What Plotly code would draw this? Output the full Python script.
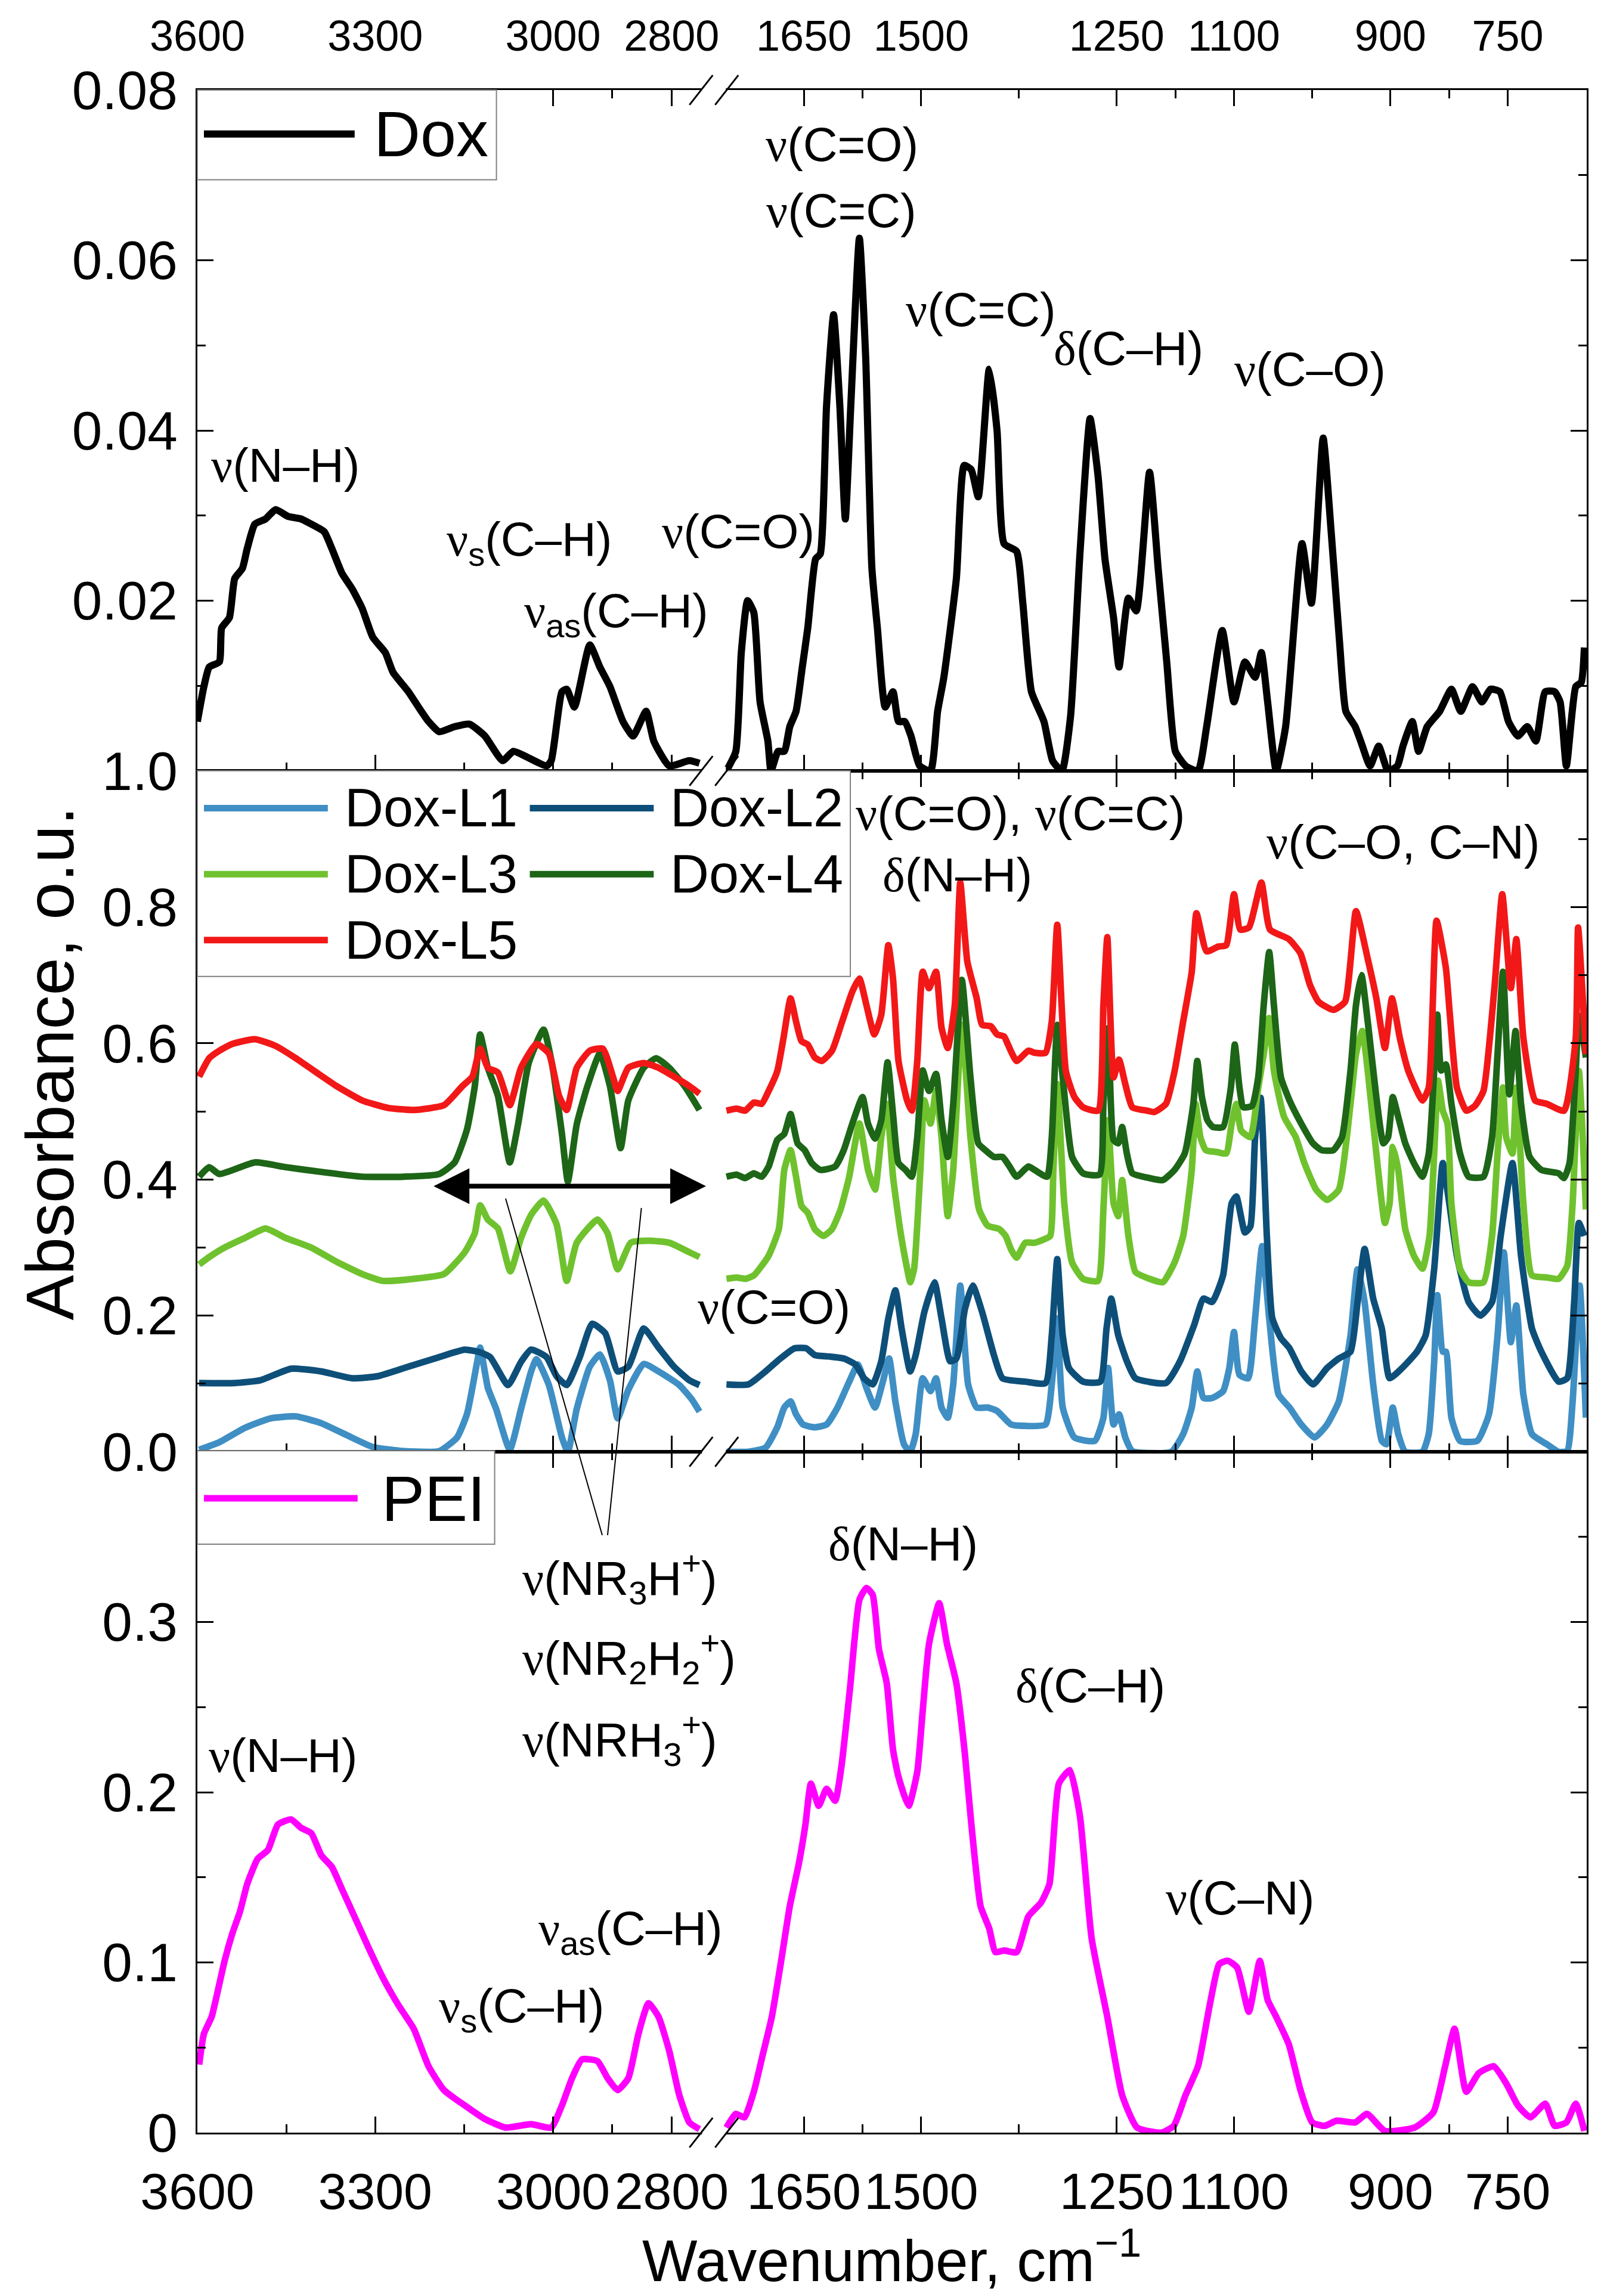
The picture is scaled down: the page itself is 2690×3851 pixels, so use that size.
import plotly.graph_objects as go
from plotly.subplots import make_subplots

# ---------------- data: wavenumber (cm-1) and absorbance ----------------
# "hi" = 3600-2750 cm-1 segment, "lo" = 1750-650 cm-1 segment

dox_wn_hi = [3600, 3589, 3580, 3563, 3559, 3546, 3537, 3524, 3516, 3503, 3485, 3468, 3447, 3425,
             3408, 3386, 3373, 3356, 3339, 3322, 3304, 3283, 3270, 3244, 3227, 3210, 3192, 3166,
             3141, 3115, 3085, 3067, 3046, 3011, 3003, 2985, 2977, 2964, 2938, 2921, 2904, 2882,
             2865, 2843, 2830, 2804, 2770, 2753]
dox_hi = [0.0058, 0.0099, 0.0122, 0.0128, 0.0168, 0.0180, 0.0226, 0.0238, 0.0261, 0.0290, 0.0296,
          0.0307, 0.0299, 0.0296, 0.0290, 0.0281, 0.0261, 0.0232, 0.0214, 0.0191, 0.0157, 0.0139,
          0.0116, 0.0093, 0.0075, 0.0058, 0.0046, 0.0052, 0.0055, 0.0041, 0.0012, 0.0023, 0.0017,
          0.0006, 0.0012, 0.0093, 0.0096, 0.0075, 0.0148, 0.0122, 0.0099, 0.0058, 0.0041, 0.0070,
          0.0035, 0.0006, 0.0012, 0.0009]

dox_wn_lo = [1749, 1737, 1730, 1722, 1714, 1706, 1696, 1692, 1683, 1675, 1668, 1660, 1652, 1645,
             1635, 1629, 1621, 1612, 1604, 1597, 1590, 1579, 1571, 1563, 1556, 1546, 1536, 1529,
             1521, 1513, 1502, 1488, 1479, 1471, 1455, 1445, 1436, 1427, 1413, 1403, 1394, 1378,
             1370, 1359, 1343, 1332, 1320, 1309, 1297, 1284, 1274, 1265, 1254, 1247, 1235, 1225,
             1208, 1197, 1186, 1175, 1162, 1146, 1135, 1115, 1100, 1086, 1073, 1065, 1057, 1046,
             1034, 1013, 1001, 986, 976, 965, 957, 945, 938, 926, 915, 903, 891, 884, 872, 864,
             853, 837, 822, 810, 795, 783, 772, 760, 749, 737, 725, 714, 702, 690, 683, 675, 663,
             656, 652]
dox_lo = [0.0, 0.0023, 0.0139, 0.0200, 0.0186, 0.0081, 0.0035, 0.0, 0.0023, 0.0023, 0.0052, 0.0070,
          0.0122, 0.0168, 0.0249, 0.0255, 0.0429, 0.0536, 0.0429, 0.0296, 0.0429, 0.0626, 0.0487,
          0.0238, 0.0168, 0.0075, 0.0093, 0.0058, 0.0058, 0.0041, 0.0006, 0.0, 0.0070, 0.0110,
          0.0226, 0.0359, 0.0354, 0.0322, 0.0472, 0.0400, 0.0267, 0.0258, 0.0197, 0.0093, 0.0058,
          0.0012, 0.0, 0.0064, 0.0255, 0.0414, 0.0348, 0.0249, 0.0180, 0.0122, 0.0203, 0.0188,
          0.0351, 0.0238, 0.0128, 0.0023, 0.0006, 0.0, 0.0052, 0.0165, 0.0081, 0.0128, 0.0110,
          0.0139, 0.0081, 0.0, 0.0052, 0.0267, 0.0197, 0.0391, 0.0284, 0.0151, 0.0070, 0.0052,
          0.0035, 0.0006, 0.0029, 0.0, 0.0006, 0.0029, 0.0058, 0.0023, 0.0052, 0.0070, 0.0096,
          0.0070, 0.0099, 0.0081, 0.0096, 0.0093, 0.0058, 0.0041, 0.0052, 0.0035, 0.0093, 0.0093,
          0.0081, 0.0006, 0.0099, 0.0104, 0.0145]

l1_wn_hi = [3597, 3563, 3520, 3477, 3434, 3391, 3347, 3304, 3253, 3192, 3162, 3145, 3128, 3123, 3110,
            3096, 3073, 3054, 3037, 3028, 3007, 2985, 2975, 2960, 2938, 2921, 2904, 2891, 2873, 2847,
            2822, 2787, 2766, 2753]
l1_hi = [0.003, 0.014, 0.035, 0.049, 0.052, 0.042, 0.024, 0.007, 0.001, 0.001, 0.021, 0.056, 0.132,
         0.153, 0.094, 0.063, 0.003, 0.063, 0.118, 0.136, 0.098, 0.021, 0.0, 0.063, 0.125, 0.143,
         0.105, 0.049, 0.091, 0.129, 0.118, 0.098, 0.077, 0.059]
l1_wn_lo = [1749, 1721, 1699, 1684, 1675, 1667, 1660, 1651, 1636, 1621, 1607, 1592, 1581, 1570, 1559,
            1549, 1541, 1533, 1522, 1514, 1507, 1498, 1488, 1481, 1474, 1466, 1459, 1450, 1440, 1429,
            1415, 1403, 1385, 1367, 1341, 1333, 1326, 1319, 1304, 1278, 1267, 1261, 1254, 1247, 1239,
            1230, 1180, 1165, 1154, 1147, 1139, 1128, 1114, 1106, 1100, 1093, 1082, 1073, 1064, 1055,
            1043, 1029, 1014, 997, 981, 966, 951, 942, 933, 922, 911, 905, 897, 890, 881, 859, 851,
            844, 840, 833, 829, 822, 811, 789, 774, 763, 755, 746, 739, 730, 719, 700, 685, 674, 667,
            658, 650]
l1_lo = [0.0, 0.0, 0.006, 0.036, 0.065, 0.074, 0.055, 0.040, 0.036, 0.040, 0.065, 0.103, 0.128, 0.094,
         0.065, 0.103, 0.137, 0.074, 0.011, 0.0, 0.026, 0.108, 0.089, 0.108, 0.065, 0.050, 0.099,
         0.244, 0.099, 0.065, 0.065, 0.060, 0.040, 0.038, 0.040, 0.099, 0.196, 0.065, 0.021, 0.016,
         0.050, 0.123, 0.040, 0.055, 0.021, 0.001, 0.0, 0.026, 0.065, 0.118, 0.079, 0.079, 0.089,
         0.123, 0.176, 0.113, 0.108, 0.196, 0.302, 0.196, 0.084, 0.065, 0.040, 0.021, 0.040, 0.074,
         0.171, 0.268, 0.220, 0.099, 0.016, 0.011, 0.065, 0.026, 0.0, 0.0, 0.026, 0.133, 0.230,
         0.147, 0.147, 0.050, 0.016, 0.016, 0.055, 0.171, 0.293, 0.161, 0.215, 0.084, 0.026, 0.011,
         0.0, 0.001, 0.074, 0.244, 0.050]

l2_wn_hi = [3597, 3537, 3494, 3442, 3391, 3339, 3296, 3244, 3192, 3149, 3123, 3106, 3076, 3054, 3037,
            3011, 2994, 2977, 2955, 2934, 2912, 2891, 2873, 2847, 2822, 2796, 2770, 2753]
l2_hi = [0.101, 0.101, 0.105, 0.122, 0.118, 0.108, 0.111, 0.125, 0.139, 0.150, 0.146, 0.139, 0.098,
         0.132, 0.150, 0.139, 0.111, 0.098, 0.139, 0.188, 0.174, 0.118, 0.125, 0.181, 0.153, 0.125,
         0.105, 0.098]
l2_wn_lo = [1749, 1721, 1699, 1680, 1662, 1647, 1636, 1618, 1599, 1584, 1573, 1562, 1551, 1542, 1533,
            1525, 1514, 1507, 1496, 1483, 1474, 1463, 1455, 1444, 1434, 1422, 1407, 1396, 1367, 1341,
            1333, 1326, 1319, 1311, 1293, 1271, 1263, 1257, 1248, 1237, 1226, 1187, 1169, 1151, 1139,
            1128, 1114, 1103, 1097, 1086, 1079, 1073, 1066, 1058, 1051, 1040, 1029, 1014, 999, 981,
            966, 951, 942, 933, 922, 911, 901, 885, 866, 855, 844, 833, 826, 815, 800, 785, 770, 759,
            744, 733, 719, 707, 685, 674, 665, 659, 652]
l2_lo = [0.099, 0.099, 0.118, 0.137, 0.152, 0.152, 0.142, 0.140, 0.137, 0.128, 0.108, 0.099, 0.133,
         0.196, 0.237, 0.181, 0.118, 0.142, 0.205, 0.249, 0.196, 0.133, 0.137, 0.210, 0.244, 0.205,
         0.142, 0.108, 0.103, 0.101, 0.171, 0.283, 0.171, 0.123, 0.103, 0.103, 0.181, 0.225, 0.171,
         0.133, 0.108, 0.101, 0.133, 0.186, 0.225, 0.220, 0.259, 0.365, 0.375, 0.322, 0.331, 0.462,
         0.520, 0.317, 0.196, 0.167, 0.152, 0.118, 0.099, 0.123, 0.137, 0.147, 0.220, 0.298, 0.225,
         0.181, 0.108, 0.123, 0.147, 0.171, 0.269, 0.424, 0.375, 0.288, 0.220, 0.200, 0.220, 0.317,
         0.424, 0.288, 0.181, 0.147, 0.103, 0.108, 0.220, 0.336, 0.317]

l3_wn_hi = [3597, 3580, 3554, 3520, 3485, 3451, 3408, 3365, 3322, 3287, 3235, 3184, 3149, 3132, 3123,
            3110, 3093, 3072, 3054, 3037, 3016, 2994, 2977, 2960, 2925, 2908, 2891, 2869, 2839, 2804,
            2770, 2753]
l3_hi = [0.275, 0.286, 0.300, 0.314, 0.328, 0.314, 0.300, 0.279, 0.261, 0.251, 0.254, 0.261, 0.293,
         0.321, 0.362, 0.341, 0.328, 0.265, 0.314, 0.348, 0.369, 0.334, 0.251, 0.307, 0.341, 0.321,
         0.268, 0.307, 0.310, 0.307, 0.293, 0.286]
l3_wn_lo = [1749, 1736, 1725, 1714, 1704, 1695, 1682, 1675, 1667, 1660, 1653, 1645, 1636, 1625, 1614,
            1603, 1592, 1579, 1568, 1559, 1551, 1544, 1536, 1527, 1518, 1514, 1509, 1501, 1496, 1488,
            1481, 1474, 1466, 1459, 1448, 1437, 1426, 1415, 1400, 1392, 1385, 1378, 1367, 1355, 1343,
            1335, 1331, 1326, 1317, 1307, 1293, 1274, 1267, 1261, 1254, 1248, 1243, 1235, 1226, 1208,
            1191, 1176, 1165, 1154, 1149, 1143, 1136, 1121, 1110, 1103, 1097, 1091, 1079, 1069, 1062,
            1055, 1049, 1036, 1021, 1010, 995, 981, 966, 951, 944, 936, 929, 918, 907, 901, 897, 890,
            881, 870, 859, 850, 844, 839, 833, 827, 822, 811, 800, 781, 770, 763, 756, 752, 744, 739,
            730, 719, 700, 685, 674, 667, 659, 650]
l3_lo = [0.254, 0.256, 0.254, 0.259, 0.273, 0.288, 0.327, 0.414, 0.443, 0.404, 0.361, 0.351, 0.327,
         0.317, 0.327, 0.356, 0.404, 0.482, 0.414, 0.385, 0.462, 0.511, 0.404, 0.327, 0.269, 0.249,
         0.269, 0.414, 0.516, 0.482, 0.530, 0.462, 0.346, 0.414, 0.627, 0.462, 0.356, 0.332, 0.327,
         0.317, 0.297, 0.285, 0.307, 0.307, 0.312, 0.317, 0.414, 0.540, 0.365, 0.278, 0.254, 0.251,
         0.356, 0.487, 0.365, 0.346, 0.399, 0.317, 0.264, 0.254, 0.249, 0.278, 0.317, 0.414, 0.511,
         0.462, 0.443, 0.440, 0.438, 0.482, 0.511, 0.472, 0.462, 0.535, 0.584, 0.637, 0.560, 0.492,
         0.462, 0.424, 0.385, 0.370, 0.385, 0.511, 0.584, 0.618, 0.560, 0.438, 0.336, 0.365, 0.448,
         0.414, 0.327, 0.288, 0.269, 0.317, 0.438, 0.545, 0.501, 0.482, 0.365, 0.269, 0.249, 0.249,
         0.317, 0.438, 0.535, 0.462, 0.438, 0.535, 0.365, 0.259, 0.256, 0.254, 0.273, 0.365, 0.559,
         0.356]

l4_wn_hi = [3597, 3580, 3563, 3503, 3451, 3391, 3322, 3253, 3192, 3166, 3145, 3132, 3123, 3110, 3093,
            3073, 3059, 3041, 3016, 3002, 2985, 2975, 2960, 2942, 2921, 2904, 2886, 2873, 2847, 2826,
            2804, 2778, 2753]
l4_hi = [0.404, 0.418, 0.408, 0.425, 0.418, 0.411, 0.404, 0.404, 0.408, 0.425, 0.474, 0.537, 0.613,
         0.564, 0.523, 0.425, 0.481, 0.571, 0.620, 0.571, 0.467, 0.397, 0.481, 0.537, 0.585, 0.537,
         0.446, 0.516, 0.564, 0.578, 0.564, 0.537, 0.502]
l4_wn_lo = [1749, 1736, 1725, 1714, 1704, 1695, 1684, 1675, 1667, 1658, 1649, 1640, 1629, 1610, 1599,
            1588, 1575, 1568, 1559, 1551, 1543, 1536, 1529, 1520, 1512, 1505, 1498, 1490, 1481, 1474,
            1466, 1459, 1448, 1437, 1427, 1418, 1407, 1396, 1387, 1378, 1363, 1355, 1339, 1333, 1326,
            1319, 1307, 1293, 1272, 1267, 1261, 1254, 1248, 1243, 1237, 1230, 1208, 1191, 1176, 1163,
            1152, 1147, 1141, 1134, 1127, 1114, 1104, 1099, 1093, 1088, 1077, 1069, 1062, 1055, 1049,
            1040, 1029, 1014, 999, 988, 973, 962, 951, 944, 937, 929, 918, 909, 903, 897, 890, 881,
            870, 859, 851, 844, 840, 835, 829, 822, 811, 800, 781, 770, 763, 756, 748, 740, 733, 722,
            707, 685, 678, 671, 663, 659, 650]
l4_lo = [0.404, 0.407, 0.402, 0.409, 0.404, 0.419, 0.458, 0.467, 0.496, 0.453, 0.443, 0.424, 0.414,
         0.419, 0.443, 0.482, 0.521, 0.482, 0.460, 0.487, 0.572, 0.496, 0.424, 0.414, 0.404, 0.462,
         0.560, 0.530, 0.555, 0.487, 0.433, 0.511, 0.693, 0.550, 0.453, 0.443, 0.433, 0.433, 0.419,
         0.404, 0.419, 0.414, 0.404, 0.462, 0.627, 0.550, 0.433, 0.409, 0.407, 0.511, 0.622, 0.458,
         0.453, 0.477, 0.438, 0.409, 0.402, 0.399, 0.414, 0.438, 0.511, 0.574, 0.521, 0.487, 0.477,
         0.477, 0.535, 0.598, 0.535, 0.506, 0.508, 0.550, 0.656, 0.734, 0.656, 0.550, 0.516, 0.482,
         0.453, 0.443, 0.443, 0.462, 0.560, 0.656, 0.700, 0.632, 0.521, 0.453, 0.462, 0.521, 0.492,
         0.453, 0.424, 0.404, 0.438, 0.560, 0.642, 0.560, 0.569, 0.511, 0.438, 0.404, 0.404, 0.462,
         0.584, 0.705, 0.525, 0.618, 0.511, 0.433, 0.414, 0.409, 0.402, 0.424, 0.560, 0.640, 0.579]

l5_wn_hi = [3597, 3580, 3563, 3541, 3503, 3468, 3434, 3399, 3365, 3322, 3278, 3235, 3184, 3153, 3136,
            3123, 3110, 3093, 3073, 3054, 3028, 3007, 2990, 2977, 2960, 2938, 2916, 2899, 2891, 2873,
            2847, 2822, 2796, 2770, 2753]
l5_hi = [0.551, 0.578, 0.589, 0.599, 0.606, 0.596, 0.578, 0.557, 0.537, 0.516, 0.505, 0.502, 0.509,
         0.537, 0.551, 0.592, 0.564, 0.557, 0.509, 0.564, 0.599, 0.585, 0.523, 0.502, 0.564, 0.589,
         0.592, 0.551, 0.530, 0.564, 0.571, 0.564, 0.551, 0.537, 0.526]
l5_wn_lo = [1749, 1736, 1725, 1714, 1704, 1695, 1684, 1676, 1667, 1660, 1653, 1645, 1636, 1627, 1614,
            1601, 1588, 1579, 1570, 1560, 1551, 1542, 1536, 1529, 1518, 1512, 1505, 1498, 1490, 1481,
            1474, 1466, 1457, 1450, 1441, 1429, 1422, 1411, 1403, 1394, 1389, 1378, 1363, 1355, 1341,
            1333, 1326, 1315, 1304, 1293, 1274, 1267, 1262, 1254, 1247, 1239, 1230, 1211, 1202, 1187,
            1176, 1165, 1154, 1148, 1135, 1120, 1110, 1100, 1092, 1081, 1065, 1054, 1030, 1015, 1003,
            992, 973, 958, 944, 929, 918, 907, 898, 888, 877, 859, 851, 841, 829, 824, 815, 803, 792,
            781, 767, 757, 746, 739, 730, 715, 700, 678, 663, 660, 650]
l5_lo = [0.501, 0.504, 0.501, 0.513, 0.511, 0.530, 0.559, 0.608, 0.666, 0.632, 0.603, 0.598, 0.579,
         0.574, 0.589, 0.632, 0.676, 0.695, 0.656, 0.613, 0.642, 0.744, 0.695, 0.574, 0.516, 0.501,
         0.574, 0.705, 0.681, 0.705, 0.623, 0.593, 0.656, 0.836, 0.720, 0.666, 0.627, 0.625, 0.613,
         0.610, 0.598, 0.574, 0.589, 0.586, 0.586, 0.632, 0.774, 0.559, 0.521, 0.506, 0.501, 0.656,
         0.756, 0.550, 0.576, 0.540, 0.506, 0.501, 0.499, 0.511, 0.559, 0.632, 0.705, 0.791, 0.735,
         0.742, 0.744, 0.819, 0.767, 0.770, 0.836, 0.767, 0.753, 0.732, 0.686, 0.661, 0.649, 0.661,
         0.794, 0.724, 0.666, 0.593, 0.666, 0.608, 0.559, 0.516, 0.535, 0.780, 0.710, 0.642, 0.535,
         0.501, 0.508, 0.530, 0.681, 0.819, 0.681, 0.753, 0.608, 0.516, 0.511, 0.501, 0.608, 0.770,
         0.584]

pei_wn_hi = [3597, 3589, 3576, 3567, 3554, 3541, 3528, 3516, 3498, 3481, 3464, 3442, 3425, 3408, 3391,
             3373, 3356, 3335, 3313, 3287, 3261, 3235, 3210, 3184, 3149, 3115, 3080, 3037, 3003, 2985,
             2968, 2951, 2925, 2908, 2891, 2873, 2856, 2839, 2822, 2804, 2787, 2770, 2753]
pei_hi = [0.040, 0.058, 0.068, 0.081, 0.101, 0.117, 0.130, 0.146, 0.161, 0.166, 0.181, 0.184, 0.179,
          0.176, 0.163, 0.156, 0.143, 0.127, 0.110, 0.091, 0.075, 0.061, 0.039, 0.025, 0.016, 0.008,
          0.003, 0.005, 0.003, 0.016, 0.032, 0.043, 0.042, 0.032, 0.025, 0.032, 0.058, 0.076, 0.068,
          0.048, 0.022, 0.006, 0.002]
pei_wn_lo = [1749, 1737, 1726, 1714, 1703, 1691, 1679, 1668, 1656, 1648, 1641, 1631, 1621, 1610, 1602,
             1591, 1579, 1570, 1562, 1554, 1544, 1536, 1529, 1516, 1505, 1498, 1490, 1477, 1467, 1455,
             1444, 1436, 1424, 1413, 1405, 1394, 1378, 1363, 1347, 1336, 1324, 1310, 1297, 1282, 1262,
             1243, 1224, 1193, 1177, 1162, 1146, 1131, 1119, 1108, 1096, 1081, 1067, 1057, 1046, 1030,
             1015, 1000, 984, 969, 945, 930, 907, 869, 845, 830, 818, 803, 787, 768, 752, 737, 721,
             702, 690, 675, 663, 652]
pei_lo = [0.003, 0.011, 0.009, 0.024, 0.045, 0.068, 0.101, 0.133, 0.159, 0.181, 0.205, 0.192, 0.202,
          0.195, 0.215, 0.261, 0.313, 0.320, 0.316, 0.284, 0.264, 0.225, 0.209, 0.192, 0.212, 0.248,
          0.287, 0.311, 0.287, 0.264, 0.222, 0.182, 0.133, 0.120, 0.106, 0.107, 0.106, 0.127, 0.135,
          0.146, 0.205, 0.213, 0.186, 0.114, 0.068, 0.022, 0.003, 0.0, 0.004, 0.022, 0.039, 0.075,
          0.099, 0.101, 0.097, 0.071, 0.101, 0.078, 0.068, 0.052, 0.025, 0.006, 0.004, 0.007, 0.006,
          0.011, 0.001, 0.003, 0.012, 0.039, 0.061, 0.024, 0.035, 0.039, 0.029, 0.016, 0.009, 0.017,
          0.004, 0.006, 0.017, 0.001]

hi_ticks = [3600, 3300, 3000, 2800]
hi_minor = [3450, 3150, 2900]
lo_ticks = [1650, 1500, 1250, 1100, 900, 750]
lo_minor = [1575, 1375, 1175, 1000, 825]

# ---------------- layout constants ----------------
W, H = 2690, 3851
ML, MR, MT, MB = 323, 35, 133, 282
PW, PH = W - ML - MR, H - MT - MB
SPLIT = 0.3718
X_HI = [3600, 2728.6]
X_LO = [1765, 649]
Y_MAX = {1: 0.08, 2: 1.0, 3: 0.4}
FONT = "Liberation Sans, Arial, sans-serif"
NU = '<span style="font-family:Liberation Serif">ν</span>'
DE = '<span style="font-family:Liberation Serif">δ</span>'

colors = {
    "Dox": "#000000",
    "Dox-L1": "#3f8fc4",
    "Dox-L2": "#0d4f79",
    "Dox-L3": "#6fc22e",
    "Dox-L4": "#1d6517",
    "Dox-L5": "#f21818",
    "PEI": "#ff00ff",
}


def pxx(x):
    return (x - ML) / PW


def pxy(y):
    return 1 - (y - MT) / PH


def wn_paper(wn):
    if wn > 2000:
        return SPLIT * (X_HI[0] - wn) / (X_HI[0] - X_HI[1])
    return SPLIT + (1 - SPLIT) * (X_LO[0] - wn) / (X_LO[0] - X_LO[1])


def val_paper(row, v):
    return (3 - row) / 3 + v / Y_MAX[row] / 3


fig = make_subplots(rows=3, cols=2, column_widths=[SPLIT, 1 - SPLIT],
                    horizontal_spacing=0, vertical_spacing=0)


def add_series(row, name, wn_hi, v_hi, wn_lo, v_lo, width=11):
    for col, (wx, vy) in ((1, (wn_hi, v_hi)), (2, (wn_lo, v_lo))):
        fig.add_trace(go.Scatter(
            x=wx, y=vy, mode="lines", name=name, showlegend=False,
            line=dict(color=colors[name], width=width, shape="spline", smoothing=0.5),
        ), row=row, col=col)


add_series(1, "Dox", dox_wn_hi, dox_hi, dox_wn_lo, dox_lo, width=12)
add_series(2, "Dox-L1", l1_wn_hi, l1_hi, l1_wn_lo, l1_lo)
add_series(2, "Dox-L2", l2_wn_hi, l2_hi, l2_wn_lo, l2_lo)
add_series(2, "Dox-L3", l3_wn_hi, l3_hi, l3_wn_lo, l3_lo)
add_series(2, "Dox-L4", l4_wn_hi, l4_hi, l4_wn_lo, l4_lo)
add_series(2, "Dox-L5", l5_wn_hi, l5_hi, l5_wn_lo, l5_lo)
add_series(3, "PEI", pei_wn_hi, pei_hi, pei_wn_lo, pei_lo)

# ---------------- axes ----------------
axis_common = dict(showline=True, linecolor="black", linewidth=3, ticks="inside",
                   ticklen=27, tickwidth=3, tickcolor="black", showgrid=False, zeroline=False)
minor_common = dict(ticks="inside", ticklen=14, tickwidth=3, tickcolor="black", showgrid=False)

for r in (1, 2, 3):
    if r == 1:
        lab = dict(side="top", showticklabels=True, tickfont=dict(family=FONT, size=72, color="black"),
                   ticklabelstandoff=34)
    elif r == 3:
        lab = dict(side="bottom", showticklabels=True, tickfont=dict(family=FONT, size=86, color="black"),
                   ticklabelstandoff=22)
    else:
        lab = dict(showticklabels=False)
    fig.update_xaxes(row=r, col=1, range=X_HI, tickmode="array", tickvals=hi_ticks,
                     minor=dict(tickmode="array", tickvals=hi_minor, **minor_common),
                     mirror="ticks", **axis_common, **lab)
    fig.update_xaxes(row=r, col=2, range=X_LO, tickmode="array", tickvals=lo_ticks,
                     minor=dict(tickmode="array", tickvals=lo_minor, **minor_common),
                     mirror="ticks", **axis_common, **lab)

ytick_font = dict(family=FONT, size=91, color="black")
fig.update_yaxes(row=1, col=1, range=[0, 0.08], tickvals=[0.02, 0.04, 0.06, 0.08],
                 ticktext=["0.02", "0.04", "0.06", "0.08"], minor=dict(dtick=0.01, **minor_common))
fig.update_yaxes(row=2, col=1, range=[0, 1.0], tickvals=[0, 0.2, 0.4, 0.6, 0.8, 1.0],
                 ticktext=["0.0", "0.2", "0.4", "0.6", "0.8", "1.0"], minor=dict(dtick=0.1, **minor_common))
fig.update_yaxes(row=3, col=1, range=[0, 0.4], tickvals=[0, 0.1, 0.2, 0.3],
                 ticktext=["0", "0.1", "0.2", "0.3"], minor=dict(dtick=0.05, **minor_common))
fig.update_yaxes(col=1, side="left", showticklabels=True, tickfont=ytick_font,
                 ticklabelstandoff=12, **axis_common)
for r, (rng, dt, mdt) in {1: ([0, 0.08], 0.02, 0.01), 2: ([0, 1.0], 0.2, 0.1),
                          3: ([0, 0.4], 0.1, 0.05)}.items():
    fig.update_yaxes(row=r, col=2, range=rng, side="right", showticklabels=False,
                     tickmode="linear", tick0=0, dtick=dt,
                     minor=dict(dtick=mdt, **minor_common), **axis_common)

# ---------------- annotations ----------------
annotations = []


def ann(text, xref, yref, x, y, size=80, xanchor="center", yanchor="middle", **kw):
    annotations.append(dict(text=text, xref=xref, yref=yref, x=x, y=y, showarrow=False,
                            xanchor=xanchor, yanchor=yanchor,
                            font=dict(family=FONT, size=size, color="black"), **kw))


# top panel (Dox)
ann(NU + "(N–H)", "x", "y", 3451, 0.0359)
ann(NU + "<sub>s</sub>(C–H)", "x", "y", 3040, 0.0268)
ann(NU + "<sub>as</sub>(C–H)", "x", "y", 2893, 0.0184)
ann(NU + "(C=O)", "x2", "y2", 1734, 0.0281)
ann(NU + "(C=O)", "x2", "y2", 1601, 0.0736)
ann(NU + "(C=C)", "x2", "y2", 1602, 0.0658)
ann(NU + "(C=C)", "x2", "y2", 1424, 0.0542)
ann(DE + "(C–H)", "x2", "y2", 1235, 0.0496)
ann(NU + "(C–O)", "x2", "y2", 1003, 0.0472)
# middle panel
ann(NU + "(C=O), " + NU + "(C=C)", "x4", "y4", 1373, 0.937)
ann(DE + "(N–H)", "x4", "y4", 1454, 0.847)
ann(NU + "(C–O, C–N)", "x4", "y4", 884, 0.895)
ann(NU + "(C=O)", "x4", "y4", 1688, 0.2125)
# bottom panel (PEI)
ann(NU + "(N–H)", "x5", "y5", 3455, 0.2216)
ann(NU + "<sub>s</sub>(C–H)", "x5", "y5", 3053, 0.0725)
ann(NU + "<sub>as</sub>(C–H)", "x5", "y5", 2869, 0.1180)
ann(NU + "(NR<sub>3</sub>H<sup>+</sup>)", "x5", "y5", 3054, 0.326, xanchor="left")
ann(NU + "(NR<sub>2</sub>H<sub>2</sub><sup>+</sup>)", "x5", "y5", 3054, 0.279, xanchor="left")
ann(NU + "(NRH<sub>3</sub><sup>+</sup>)", "x5", "y5", 3054, 0.231, xanchor="left")
ann(DE + "(N–H)", "x6", "y6", 1523, 0.3458)
ann(DE + "(C–H)", "x6", "y6", 1284, 0.2624)
ann(NU + "(C–N)", "x6", "y6", 1092, 0.138)

# double arrow across the 3200-2740 region
annotations.append(dict(text="", xref="x3", yref="y3", axref="x3", ayref="y3",
                        x=2742, y=0.39, ax=3203, ay=0.39, showarrow=True,
                        arrowside="end+start", arrowhead=2, arrowsize=1.5,
                        arrowwidth=8, arrowcolor="black", standoff=0, startstandoff=0))

# axis titles
ann("Absorbance, o.u.", "paper", "paper", pxx(75), pxy(1770), size=114, textangle=-90)
ann("Wavenumber, cm<sup>−1</sup>", "paper", "paper", pxx(1488), pxy(3778), size=98)

# ---------------- shapes: legends, leaders, axis breaks ----------------
shapes = []


def rect(x0, y0, x1, y1, line_color="#808080", fill="white", lw=2):
    shapes.append(dict(type="rect", xref="paper", yref="paper", x0=pxx(x0), y0=pxy(y0),
                       x1=pxx(x1), y1=pxy(y1), line=dict(color=line_color, width=lw),
                       fillcolor=fill, layer="above"))


def seg(x0, y0, x1, y1, color="black", lw=2):
    shapes.append(dict(type="line", xref="paper", yref="paper", x0=x0, y0=y0, x1=x1, y1=y1,
                       line=dict(color=color, width=lw), layer="above"))


# legend boxes
rect(323, 133, 825, 284)
seg(pxx(334), pxy(207), pxx(587), pxy(207), colors["Dox"], 12)
ann("Dox", "paper", "paper", pxx(617), pxy(207), size=108, xanchor="left")

rect(323, 1278, 1419, 1624)
leg_rows = [("Dox-L1", 334, 1341), ("Dox-L2", 881, 1341), ("Dox-L3", 334, 1452),
            ("Dox-L4", 881, 1452), ("Dox-L5", 334, 1563)]
for name, x0, y0 in leg_rows:
    seg(pxx(x0), pxy(y0), pxx(x0 + 208), pxy(y0), colors[name], 11)
    ann(name, "paper", "paper", pxx(x0 + 234), pxy(y0), size=90, xanchor="left")

rect(323, 2422, 822, 2579)
seg(pxx(334), pxy(2502), pxx(592), pxy(2502), colors["PEI"], 11)
ann("PEI", "paper", "paper", pxx(630), pxy(2502), size=108, xanchor="left")

# leader lines from the arrow to the ammonium labels
seg(wn_paper(3080), val_paper(2, 0.372), wn_paper(2917), val_paper(3, 0.351), lw=2)
seg(wn_paper(2851), val_paper(2, 0.358), wn_paper(2908), val_paper(3, 0.351), lw=2)

# axis break marks
xb = ML + SPLIT * PW
for k in range(4):
    yb = MT + k * PH / 3
    rect(xb - 20, yb - 7, xb + 20, yb + 7, line_color="white", fill="white", lw=0)
    seg(pxx(xb - 41), pxy(yb + 25), pxx(xb - 2), pxy(yb - 25), lw=3)
    seg(pxx(xb + 2), pxy(yb + 25), pxx(xb + 41), pxy(yb - 25), lw=3)

fig.update_layout(
    width=W, height=H,
    margin=dict(l=ML, r=MR, t=MT, b=MB),
    paper_bgcolor="white", plot_bgcolor="white",
    font=dict(family=FONT, color="black"),
    showlegend=False,
    annotations=annotations,
    shapes=shapes,
)

fig.write_html("out.html")
